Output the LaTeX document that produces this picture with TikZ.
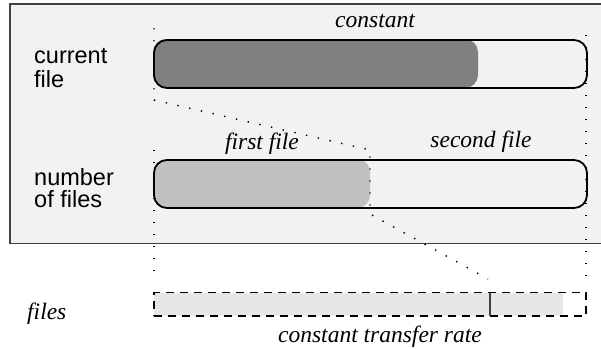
\documentclass[tikz,border=0pt]{standalone}
\usepackage{fontspec}
\setmainfont{Liberation Serif}
\setsansfont{Liberation Sans}
\definecolor{panelbg}{HTML}{F2F2F2}
\definecolor{panelrule}{HTML}{404040}
\definecolor{darkfill}{HTML}{808080}
\definecolor{lightfill}{HTML}{C0C0C0}
\definecolor{filesfill}{HTML}{E6E6E6}
\begin{document}
\begin{tikzpicture}[x=1pt,y=-1pt,
  bar/.style={draw=black, line width=1.8pt, rounded corners=13pt, inner sep=0pt,
              minimum width=433pt, minimum height=48pt},
  dots/.style={line width=1.4pt, dash pattern=on 1.4pt off 10.6pt},
  rowlabel/.style={font=\sffamily\fontsize{23.5}{23}\selectfont, anchor=base west, inner sep=0pt},
  tag/.style={font=\itshape\fontsize{23.5}{24}\selectfont, anchor=base, inner sep=0pt}]
\useasboundingbox (0,0) rectangle (601,348);
\fill[white] (0,0) rectangle (601,348);

% shaded panel holding the two bars
\draw[fill=panelbg, draw=panelrule, line width=1.1pt] (10,4) rectangle (603,243.5);

% bar frames (positions only; outlines are stroked last)
\node[bar, draw=none] (cur) at (370.5,64) {};
\node[bar, draw=none] (num) at (370.5,184) {};

% progress fills
\fill[darkfill, rounded corners=13pt] (cur.north west) rectangle (478,88);
\fill[lightfill, rounded corners=13pt] (num.north west) rectangle (370,208);

% guide points for the dotted lines
\coordinate (a1) at (154,28);
\coordinate (a2) at (154,100);
\coordinate (a3) at (370,150);
\coordinate (a4) at (370,214);
\coordinate (a5) at (488,279);
\coordinate (b1) at (154,150);
\coordinate (b2) at (154,278);
\coordinate (c1) at (586,35);
\coordinate (c2) at (586,280);

\draw[dots] (a1) -- (a2) -- (a3) -- (a4) -- (a5);
\draw[dots] (b1) -- (b2);
\draw[dots] (c1) -- (c2);

% bar outlines
\node[bar] at (cur) {};
\node[bar] at (num) {};

% row labels
\node[rowlabel] (l1) at (34,63) {current};
\node[rowlabel] (l2) at (34,87) {file};
\node[rowlabel] (l3) at (34,185) {number};
\node[rowlabel] (l4) at (34,207) {of files};

% italic annotations
\node[tag] (t1) at (375,27) {constant};
\node[tag] (t2) at (262,149) {first file};
\node[tag] (t3) at (481,147) {second file};
\node[tag, anchor=base west] (t4) at (27,319) {files};
\node[tag, anchor=base east] (t5) at (482,342) {constant transfer rate};

% file stream strip
\fill[filesfill] (154,292.5) rectangle (563,316);
\node[draw=black, line width=1.2pt, dash pattern=on 8pt off 6pt, inner sep=0pt,
      minimum width=432pt, minimum height=23.5pt] (strip) at (370,304.25) {};
\coordinate (m1) at (490,292.5);
\coordinate (m2) at (490,316);
\draw[line width=1.5pt, draw=panelrule] (m1) -- (m2);
\end{tikzpicture}
\end{document}
